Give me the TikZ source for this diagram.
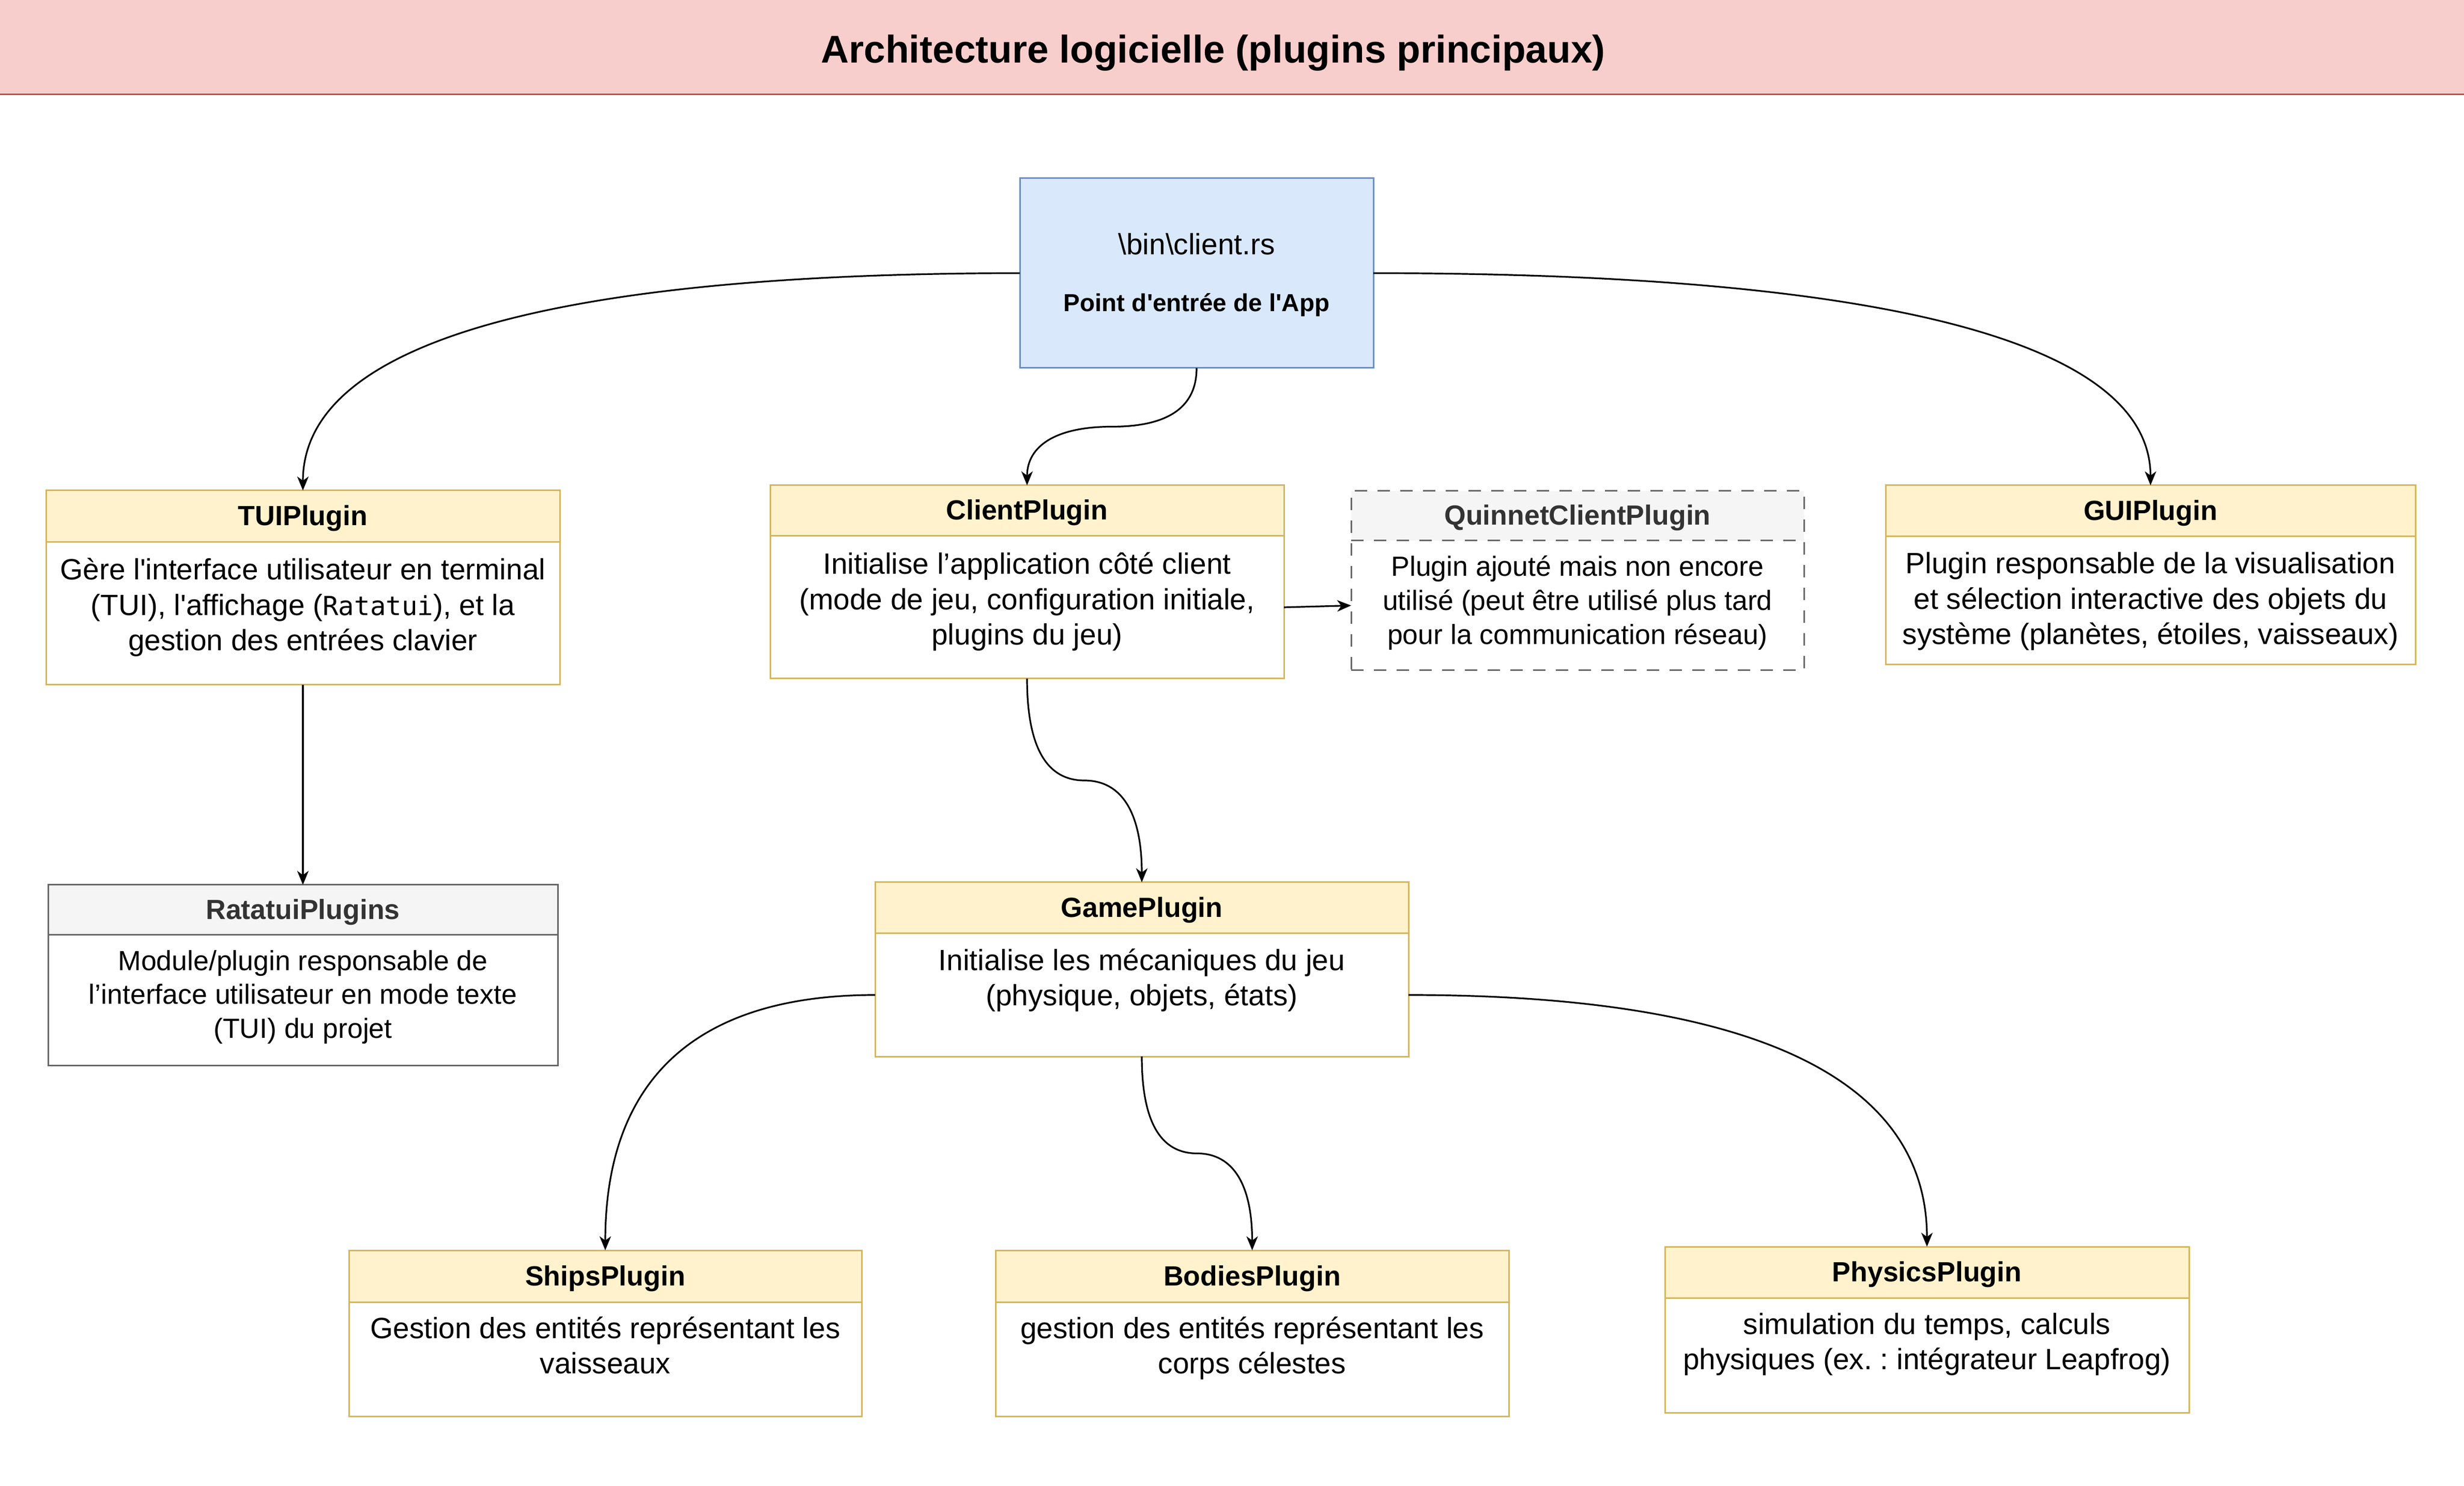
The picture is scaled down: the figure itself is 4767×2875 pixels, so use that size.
\documentclass[tikz,border=0pt]{standalone}
\usepackage{fontspec}
\setmainfont{Liberation Sans}[Ligatures=TeXOff]
\newfontfamily\codefont{DejaVu Sans Mono}
\usetikzlibrary{arrows.meta,calc,fit}
\frenchspacing
\definecolor{yfill}{HTML}{FFF2CC}
\definecolor{ystroke}{HTML}{D6B656}
\definecolor{gfill}{HTML}{F5F5F5}
\definecolor{gstroke}{HTML}{666666}
\definecolor{gtext}{HTML}{333333}
\definecolor{bfill}{HTML}{DAE8FC}
\definecolor{bstroke}{HTML}{6C8EBF}
\definecolor{rfill}{HTML}{F8CECC}
\definecolor{rstroke}{HTML}{B85450}
\newcommand\firstln{\rule{0pt}{12pt}}
\newcommand\elbowlink[2]{%
  \coordinate (tmpk) at (#2 |- #1);
  \draw[link] (#1) .. controls ($(#1)!2/3!(tmpk)$) and ($(#2)!2/3!(tmpk)$) .. (#2);}
\newcommand\slink[2]{%
  \coordinate (tmpm) at ($(#1)!0.5!(#2)$);
  \coordinate (tmpa) at (#1 |- tmpm);
  \coordinate (tmpb) at (#2 |- tmpm);
  \draw[link] (#1) .. controls ($(#1)!2/3!(tmpa)$) and ($(tmpm)!2/3!(tmpa)$) .. (tmpm)
     .. controls ($(tmpm)!2/3!(tmpb)$) and ($(#2)!2/3!(tmpb)$) .. (#2);}
\begin{document}
\begin{tikzpicture}[x=0.25pt,y=-0.25pt,
  every node/.style={inner sep=0pt, outer sep=0pt},
  area/.style={inner sep=0pt, outer sep=0pt},
  yhead/.style={area, fill=yfill},
  ghead/.style={area, fill=gfill},
  yframe/.style={area, draw=ystroke, line width=0.75pt},
  gframe/.style={area, draw=gstroke, line width=0.75pt},
  dashedge/.style={dash pattern=on 6pt off 5pt},
  hlabel/.style={anchor=base, font=\fontsize{13.4pt}{16pt}\selectfont\bfseries},
  txt/.style={anchor=north, align=center, font=\fontsize{14.2pt}{17.1pt}\selectfont},
  txtsm/.style={anchor=north, align=center, font=\fontsize{13.4pt}{16.4pt}\selectfont},
  link/.style={draw, line width=0.8pt, -{Stealth[length=6.75pt,width=5.5pt,inset=2pt]}}
]
\useasboundingbox (0,0) rectangle (4767,2875);
\fill[white] (0,0) rectangle (4767,2875);

% title band
\node[area, fill=rfill, fit={(0,0)(4767,183)}] (band) {};
\draw[rstroke, line width=0.75pt] (band.south west) -- (band.south east);
\node[anchor=base, font=\fontsize{18.7pt}{22pt}\selectfont\bfseries] (title) at (2347,122) {Architecture logicielle (plugins principaux)};

% entry point
\node[area, fill=bfill, draw=bstroke, line width=0.75pt, fit={(1973,345)(2657,712)}] (client) {};
\node[anchor=base, font=\fontsize{14.2pt}{17pt}\selectfont] (clientpath) at (2315,493) {\textbackslash bin\textbackslash client.rs};
\node[anchor=base, font=\fontsize{11.9pt}{14pt}\selectfont\bfseries] (clientdesc) at (2315,603) {Point d'entrée de l'App};

% TUIPlugin
\node[yhead, fit={(89,949)(1083,1049)}] (tui-h) {};
\node[area, fit={(89,1049)(1083,1325)}] (tui-b) {};
\node[yframe, fit={(89,949)(1083,1325)}] (tui) {};
\draw[ystroke, line width=0.75pt] (tui-h.south west) -- (tui-h.south east);
\node[hlabel] (tui-l) at ([yshift=-4.5pt]tui-h.center) {TUIPlugin};
\node[txt] (tui-t) at ([yshift=-6.25pt]tui-b.north) {\firstln Gère l'interface utilisateur en terminal\\(TUI), l'affichage ({\codefont\fontsize{12.7pt}{17.1pt}\selectfont Ratatui}), et la\\gestion des entrées clavier};

% ClientPlugin
\node[yhead, fit={(1490,939)(2484,1037)}] (cp-h) {};
\node[area, fit={(1490,1037)(2484,1313)}] (cp-b) {};
\node[yframe, fit={(1490,939)(2484,1313)}] (cp) {};
\draw[ystroke, line width=0.75pt] (cp-h.south west) -- (cp-h.south east);
\node[hlabel] (cp-l) at ([yshift=-4.5pt]cp-h.center) {ClientPlugin};
\node[txt] (cp-t) at ([yshift=-6.5pt]cp-b.north) {\firstln Initialise l’application côté client\\(mode de jeu, configuration initiale,\\plugins du jeu)};

% QuinnetClientPlugin
\node[ghead, fit={(2614,950)(3490,1046)}] (qc-h) {};
\node[area, fit={(2614,1046)(3490,1297)}] (qc-b) {};
\node[gframe, dashedge, fit={(2614,950)(3490,1297)}] (qc) {};
\draw[gstroke, line width=0.75pt, dashedge] (qc-h.south west) -- (qc-h.south east);
\node[hlabel, text=gtext] (qc-l) at ([yshift=-4.5pt]qc-h.center) {QuinnetClientPlugin};
\node[txtsm] (qc-t) at ([yshift=-5.25pt]qc-b.north) {\firstln Plugin ajouté mais non encore\\utilisé (peut être utilisé plus tard\\pour la communication réseau)};

% GUIPlugin
\node[yhead, fit={(3648,939)(4673,1038)}] (gui-h) {};
\node[area, fit={(3648,1038)(4673,1286)}] (gui-b) {};
\node[yframe, fit={(3648,939)(4673,1286)}] (gui) {};
\draw[ystroke, line width=0.75pt] (gui-h.south west) -- (gui-h.south east);
\node[hlabel] (gui-l) at ([yshift=-4.5pt]gui-h.center) {GUIPlugin};
\node[txt] (gui-t) at ([yshift=-6pt]gui-b.north) {\firstln Plugin responsable de la visualisation\\et sélection interactive des objets du\\système (planètes, étoiles, vaisseaux)};

% RatatuiPlugins
\node[ghead, fit={(93,1712)(1079,1809)}] (rat-h) {};
\node[area, fit={(93,1809)(1079,2061)}] (rat-b) {};
\node[gframe, fit={(93,1712)(1079,2061)}] (rat) {};
\draw[gstroke, line width=0.75pt] (rat-h.south west) -- (rat-h.south east);
\node[hlabel, text=gtext] (rat-l) at ([yshift=-4.5pt]rat-h.center) {RatatuiPlugins};
\node[txtsm] (rat-t) at ([yshift=-5pt]rat-b.north) {\firstln Module/plugin responsable de\\l’interface utilisateur en mode texte\\(TUI) du projet};

% GamePlugin
\node[yhead, fit={(1693,1707)(2725,1806)}] (game-h) {};
\node[area, fit={(1693,1806)(2725,2044)}] (game-b) {};
\node[yframe, fit={(1693,1707)(2725,2044)}] (game) {};
\draw[ystroke, line width=0.75pt] (game-h.south west) -- (game-h.south east);
\node[hlabel] (game-l) at ([yshift=-4.5pt]game-h.center) {GamePlugin};
\node[txt] (game-t) at ([yshift=-5.75pt]game-b.north) {\firstln Initialise les mécaniques du jeu\\(physique, objets, états)};

% ShipsPlugin
\node[yhead, fit={(675,2419)(1667,2519)}] (ships-h) {};
\node[area, fit={(675,2519)(1667,2740)}] (ships-b) {};
\node[yframe, fit={(675,2419)(1667,2740)}] (ships) {};
\draw[ystroke, line width=0.75pt] (ships-h.south west) -- (ships-h.south east);
\node[hlabel] (ships-l) at ([yshift=-4.5pt]ships-h.center) {ShipsPlugin};
\node[txt] (ships-t) at ([yshift=-5.5pt]ships-b.north) {\firstln Gestion des entités représentant les\\vaisseaux};

% BodiesPlugin
\node[yhead, fit={(1926,2419)(2919,2519)}] (bodies-h) {};
\node[area, fit={(1926,2519)(2919,2740)}] (bodies-b) {};
\node[yframe, fit={(1926,2419)(2919,2740)}] (bodies) {};
\draw[ystroke, line width=0.75pt] (bodies-h.south west) -- (bodies-h.south east);
\node[hlabel] (bodies-l) at ([yshift=-4.5pt]bodies-h.center) {BodiesPlugin};
\node[txt] (bodies-t) at ([yshift=-5.5pt]bodies-b.north) {\firstln gestion des entités représentant les\\corps célestes};

% PhysicsPlugin
\node[yhead, fit={(3221,2412)(4235,2511)}] (phys-h) {};
\node[area, fit={(3221,2511)(4235,2733)}] (phys-b) {};
\node[yframe, fit={(3221,2412)(4235,2733)}] (phys) {};
\draw[ystroke, line width=0.75pt] (phys-h.south west) -- (phys-h.south east);
\node[hlabel] (phys-l) at ([yshift=-4.5pt]phys-h.center) {PhysicsPlugin};
\node[txt] (phys-t) at ([yshift=-5.5pt]phys-b.north) {\firstln simulation du temps, calculs\\physiques (ex. : intégrateur Leapfrog)};

% connectors
\elbowlink{client.west}{tui.north}
\elbowlink{client.east}{gui.north}
\slink{client.south}{cp.north}
\draw[link] (cp-b.east) -- (qc-b.west);
\draw[link] (tui.south) -- (rat.north);
\slink{cp.south}{game.north}
\elbowlink{game-b.west}{ships.north}
\elbowlink{game-b.east}{phys.north}
\slink{game.south}{bodies.north}
\end{tikzpicture}
\end{document}
